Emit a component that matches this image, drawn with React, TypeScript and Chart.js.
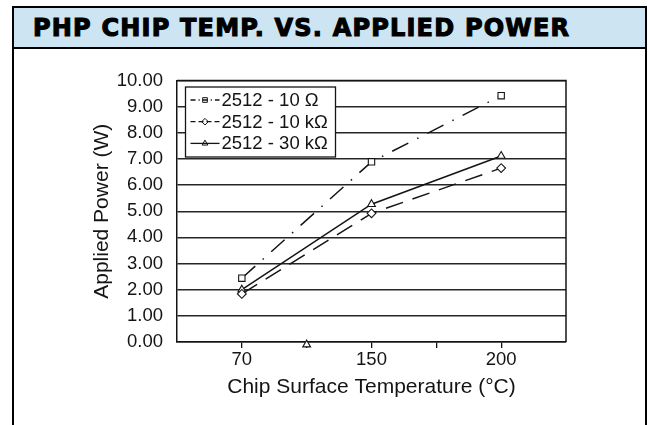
import React, { useEffect, useRef } from "react";
import { Chart, registerables } from "chart.js";

Chart.register(...registerables);

// ---------- data ----------
const titleText = "PHP CHIP TEMP. VS. APPLIED POWER";
const xAxisTitle = "Chip Surface Temperature (°C)";
const yAxisTitle = "Applied Power (W)";
const categories = ["", "70", "", "150", "", "200", ""];
const seriesNames = ["2512 - 10 Ω", "2512 - 10 kΩ", "2512 - 30 kΩ"];
const power10R = [null, 2.44, null, 6.89, null, 9.42, null];
const power10k = [null, 1.84, null, 4.92, null, 6.65, null];
const power30k = [null, 2.0, null, 5.27, null, 7.11, null];
const strayMarker30k = [null, null, -0.1, null, null, null, null];
const yMin = 0;
const yMax = 10;
const yStep = 1;
const yDecimals = 2;

const FONT = "'Liberation Sans', Arial, Helvetica, sans-serif";
const INK = "#141414";

const seriesStyles = [
  { dash: [18, 10, 1.5, 10], point: "rect", radius: 4.5, legendDash: [5, 3, 1.2, 3] },
  { dash: [18, 10], point: "rectRot", radius: 4.4, legendDash: [5, 3] },
  { dash: [], point: "triangle", radius: 4.5, legendDash: [] },
];

function drawMarker(ctx: CanvasRenderingContext2D, style: string, x: number, y: number, r: number) {
  ctx.beginPath();
  if (style === "rect") {
    const s = r * Math.SQRT1_2;
    ctx.rect(x - s, y - s, 2 * s, 2 * s);
  } else if (style === "rectRot") {
    ctx.moveTo(x - r, y);
    ctx.lineTo(x, y - r);
    ctx.lineTo(x + r, y);
    ctx.lineTo(x, y + r);
    ctx.closePath();
  } else {
    for (let i = 0; i < 3; i++) {
      const ang = -Math.PI / 2 + (i * 2 * Math.PI) / 3;
      const px = x + Math.cos(ang) * r;
      const py = y + Math.sin(ang) * r;
      if (i === 0) ctx.moveTo(px, py);
      else ctx.lineTo(px, py);
    }
    ctx.closePath();
  }
  ctx.stroke();
}

const framePlugin = {
  id: "plotFrame",
  afterDatasetsDraw(chart: any) {
    const { ctx, chartArea } = chart;
    ctx.save();
    ctx.strokeStyle = INK;
    ctx.lineWidth = 1.5;
    ctx.beginPath();
    ctx.moveTo(chartArea.left, chartArea.top);
    ctx.lineTo(chartArea.right, chartArea.top);
    ctx.lineTo(chartArea.right, chartArea.bottom);
    ctx.stroke();
    ctx.restore();
  },
};

const boxLegendPlugin = {
  id: "boxLegend",
  afterDraw(chart: any) {
    const { ctx, chartArea } = chart;
    const x0 = chartArea.left + 8.5;
    const y0 = chartArea.top + 6.5;
    const w = 150;
    const rowH = 21.7;
    const h = 70;
    ctx.save();
    ctx.fillStyle = "#fff";
    ctx.fillRect(x0, y0, w, h);
    ctx.strokeStyle = INK;
    ctx.lineWidth = 1.3;
    ctx.strokeRect(x0, y0, w, h);
    ctx.font = `18.5px ${FONT}`;
    ctx.textBaseline = "middle";
    ctx.textAlign = "left";
    seriesNames.forEach((name, i) => {
      const cy = y0 + 13 + i * rowH;
      const st = seriesStyles[i];
      ctx.strokeStyle = INK;
      ctx.lineWidth = 1.3;
      ctx.setLineDash(st.legendDash);
      ctx.beginPath();
      ctx.moveTo(x0 + 5, cy);
      ctx.lineTo(x0 + 34, cy);
      ctx.stroke();
      ctx.setLineDash([]);
      ctx.lineWidth = 1;
      drawMarker(ctx, st.point, x0 + 19.5, cy, 3.3);
      ctx.fillStyle = INK;
      ctx.fillText(name, x0 + 36, cy + 1);
    });
    ctx.restore();
  },
};

function ChartCanvas() {
  const ref = useRef<HTMLCanvasElement | null>(null);
  useEffect(() => {
    if (!ref.current) return;
    const seriesData = [power10R, power10k, power30k];
    const datasets: any[] = seriesData.map((d, i) => ({
      label: seriesNames[i],
      data: d,
      borderColor: INK,
      borderWidth: 1.5,
      borderDash: seriesStyles[i].dash,
      pointStyle: seriesStyles[i].point,
      pointRadius: seriesStyles[i].radius,
      pointBackgroundColor: "#fff",
      pointBorderColor: INK,
      pointBorderWidth: 1.1,
      spanGaps: true,
      tension: 0,
      fill: false,
      clip: false,
    }));
    datasets.push({
      label: "",
      data: strayMarker30k,
      showLine: false,
      pointStyle: "triangle",
      pointRadius: seriesStyles[2].radius,
      pointBackgroundColor: "#fff",
      pointBorderColor: INK,
      pointBorderWidth: 1.1,
      clip: false,
    });
    const padLeft = 84;
    const chart = new Chart(ref.current, {
      type: "line",
      data: { labels: categories, datasets },
      plugins: [framePlugin, boxLegendPlugin],
      options: {
        responsive: false,
        animation: false,
        events: [],
        layout: { padding: { left: padLeft, top: 80.5, right: 82, bottom: 0 } },
        plugins: { legend: { display: false }, tooltip: { enabled: false }, title: { display: false } },
        scales: {
          x: {
            type: "category",
            offset: false,
            grid: {
              display: true,
              drawOnChartArea: false,
              drawTicks: true,
              tickLength: 6,
              lineWidth: 1.3,
              color: (c: any) =>
                c.index === 0 || c.index === categories.length - 1 ? "rgba(0,0,0,0)" : INK,
            },
            border: { display: true, color: INK, width: 1.5 },
            ticks: {
              autoSkip: false,
              maxRotation: 0,
              padding: 1,
              color: INK,
              font: { family: FONT, size: 18.5 },
            },
            title: {
              display: true,
              text: xAxisTitle,
              color: INK,
              font: { family: FONT, size: 21 },
              padding: { top: 0, bottom: 25 },
            },
            afterFit: (s: any) => {
              s.height = 83;
            },
          },
          y: {
            min: yMin,
            max: yMax,
            ticks: {
              stepSize: yStep,
              padding: 14,
              color: INK,
              font: { family: FONT, size: 18.5 },
              callback: (v: any) => Number(v).toFixed(yDecimals),
            },
            grid: { color: "#262626", lineWidth: 1.5, drawTicks: false },
            border: { display: true, color: INK, width: 1.5 },
            title: {
              display: true,
              text: yAxisTitle,
              color: INK,
              font: { family: FONT, size: 21 },
              padding: { top: 6, bottom: 0 },
            },
            afterFit: (s: any) => {
              s.width = 177 - padLeft;
            },
          },
        },
      } as any,
    });
    return () => chart.destroy();
  }, []);
  return (
    <canvas
      ref={ref}
      width={648}
      height={425}
      style={{ position: "absolute", left: 0, top: 0, width: 648, height: 425 }}
    />
  );
}

export default function App() {
  return (
    <div
      style={{
        position: "fixed",
        left: 0,
        top: 0,
        width: 648,
        height: 425,
        overflow: "hidden",
        background: "#fff",
      }}
    >
      <ChartCanvas />
      <div
        style={{
          position: "absolute",
          left: 12,
          top: 6,
          width: 635,
          height: 430,
          border: "2px solid #000",
          borderBottom: "none",
          boxSizing: "border-box",
          pointerEvents: "none",
        }}
      >
        <div
          style={{
            height: 41,
            boxSizing: "border-box",
            background: "#cde5f2",
            borderBottom: "2px solid #000",
            display: "flex",
            alignItems: "center",
            paddingLeft: 19,
            fontFamily: "'DejaVu Sans', sans-serif",
            fontWeight: 700,
            fontSize: 24,
            letterSpacing: 1.2,
            color: "#000",
            whiteSpace: "nowrap",
            WebkitTextStroke: "1.1px #000",
          }}
        >
          {titleText}
        </div>
      </div>
    </div>
  );
}
